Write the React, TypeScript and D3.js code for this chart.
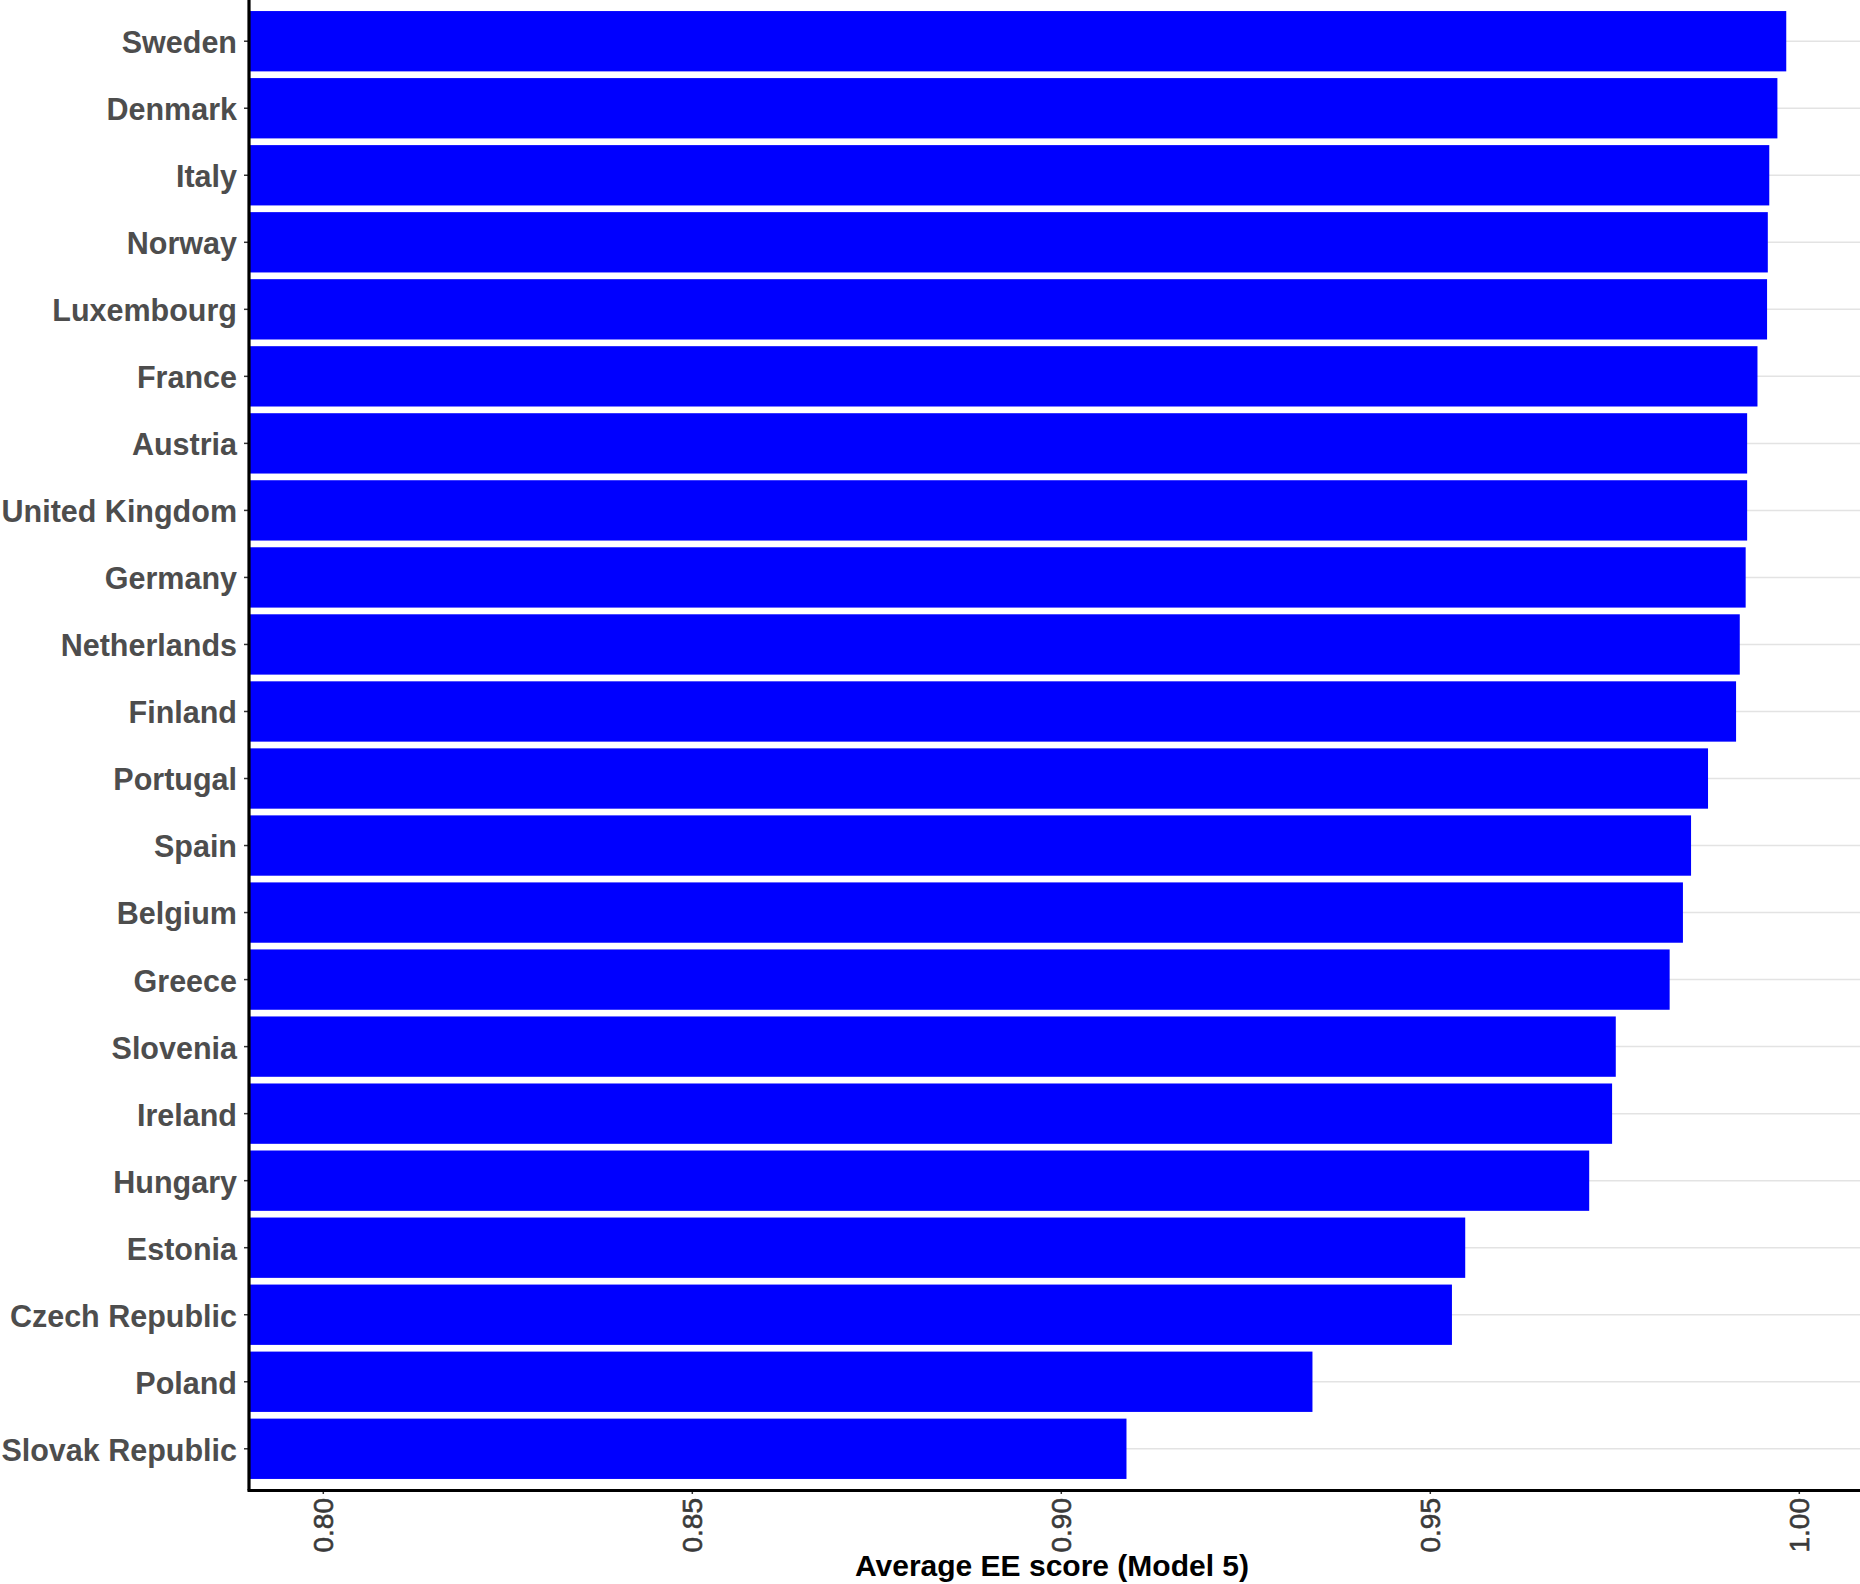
import React from 'react';
import * as d3 from 'd3';

const countries = [
  'Sweden', 'Denmark', 'Italy', 'Norway', 'Luxembourg', 'France', 'Austria',
  'United Kingdom', 'Germany', 'Netherlands', 'Finland', 'Portugal', 'Spain',
  'Belgium', 'Greece', 'Slovenia', 'Ireland', 'Hungary', 'Estonia',
  'Czech Republic', 'Poland', 'Slovak Republic',
];
const eeScores = [
  0.9983, 0.9971, 0.9960, 0.9958, 0.9957, 0.9944, 0.9930,
  0.9930, 0.9928, 0.9920, 0.9915, 0.9877, 0.9854,
  0.9843, 0.9825, 0.9752, 0.9747, 0.9716, 0.9548,
  0.9530, 0.9341, 0.9089,
];
const xTicks = [0.80, 0.85, 0.90, 0.95, 1.00];
const xTitle = 'Average EE score (Model 5)';

const App = () => {
  const svgRef = React.useRef<SVGSVGElement>(null);

  React.useEffect(() => {
    const svg = d3.select(svgRef.current);
    svg.selectAll('*').remove();

    const data = countries.map((c, i) => ({ country: c, score: eeScores[i] }));
    const left = 249;
    const top = 1;
    const bottom = 1489;

    // ggplot-ish expansion: 0.79 .. 1.01
    const xScale = d3.scaleLinear().domain([0.79, 1.01]).range([left, left + 0.22 * 7380]);
    const yScale = d3.scaleBand().domain(countries).range([top, bottom])
      .paddingInner(0.1).paddingOuter(0.15);

    const chart = svg.append('g');

    // horizontal grid lines
    chart.selectAll('.grid')
      .data(countries)
      .join('line')
      .attr('class', 'grid')
      .attr('x1', left)
      .attr('x2', 1860)
      .attr('y1', d => yScale(d)! + yScale.bandwidth() / 2)
      .attr('y2', d => yScale(d)! + yScale.bandwidth() / 2)
      .attr('stroke', '#e3e3e3')
      .attr('stroke-width', 1.5);

    chart.selectAll('.bar')
      .data(data)
      .join('rect')
      .attr('class', 'bar')
      .attr('x', xScale(0.79))
      .attr('y', d => yScale(d.country)!)
      .attr('width', d => xScale(d.score) - xScale(0.79))
      .attr('height', yScale.bandwidth())
      .attr('fill', '#0000ff');

    // y axis
    const yAxis = d3.axisLeft(yScale).tickSize(5).tickSizeOuter(0).tickPadding(7);
    const yAxisG = chart.append('g').attr('transform', `translate(${left},0)`).call(yAxis);
    yAxisG.select('.domain').remove();
    yAxisG.selectAll('.tick line').attr('stroke', '#333').attr('stroke-width', 1.5);
    yAxisG.selectAll('.tick text')
      .attr('x', -12)
      .attr('dy', '0.39em')
      .attr('fill', '#4d4d4d')
      .style('font-family', '"Liberation Sans", Arial, sans-serif')
      .style('font-size', '30.5px')
      .style('font-weight', 'bold');

    // x axis
    const xAxis = d3.axisBottom(xScale).tickValues(xTicks).tickFormat(d3.format('.2f')).tickSize(5).tickSizeOuter(0);
    const xAxisG = chart.append('g').attr('transform', `translate(0,${bottom})`).call(xAxis);
    xAxisG.select('.domain').remove();
    xAxisG.selectAll('.tick line').attr('stroke', '#333').attr('stroke-width', 1.5);
    xAxisG.selectAll('.tick text')
      .attr('transform', 'rotate(-90)')
      .attr('x', -9)
      .attr('y', 0)
      .attr('dy', '0.36em')
      .attr('text-anchor', 'end')
      .attr('fill', '#3a3a3a')
      .attr('stroke', '#3a3a3a')
      .attr('stroke-width', 0.6)
      .style('font-family', '"Liberation Sans", Arial, sans-serif')
      .style('font-size', '28px');

    // axis lines
    chart.append('line')
      .attr('x1', left).attr('x2', left)
      .attr('y1', 0).attr('y2', bottom + 1.5)
      .attr('stroke', '#000').attr('stroke-width', 3.2);
    chart.append('line')
      .attr('x1', left - 1.5).attr('x2', 1860)
      .attr('y1', bottom + 1.5).attr('y2', bottom + 1.5)
      .attr('stroke', '#000').attr('stroke-width', 3.2);

    svg.append('text')
      .attr('x', 1052)
      .attr('y', 1576)
      .attr('text-anchor', 'middle')
      .attr('fill', '#000')
      .style('font-family', '"Liberation Sans", Arial, sans-serif')
      .style('font-size', '30px')
      .style('font-weight', 'bold')
      .text(xTitle);
  }, []);

  return (
    <svg ref={svgRef} width={1860} height={1584}
      style={{ position: 'absolute', left: 0, top: 0, background: '#fff' }} />
  );
};

export default App;
